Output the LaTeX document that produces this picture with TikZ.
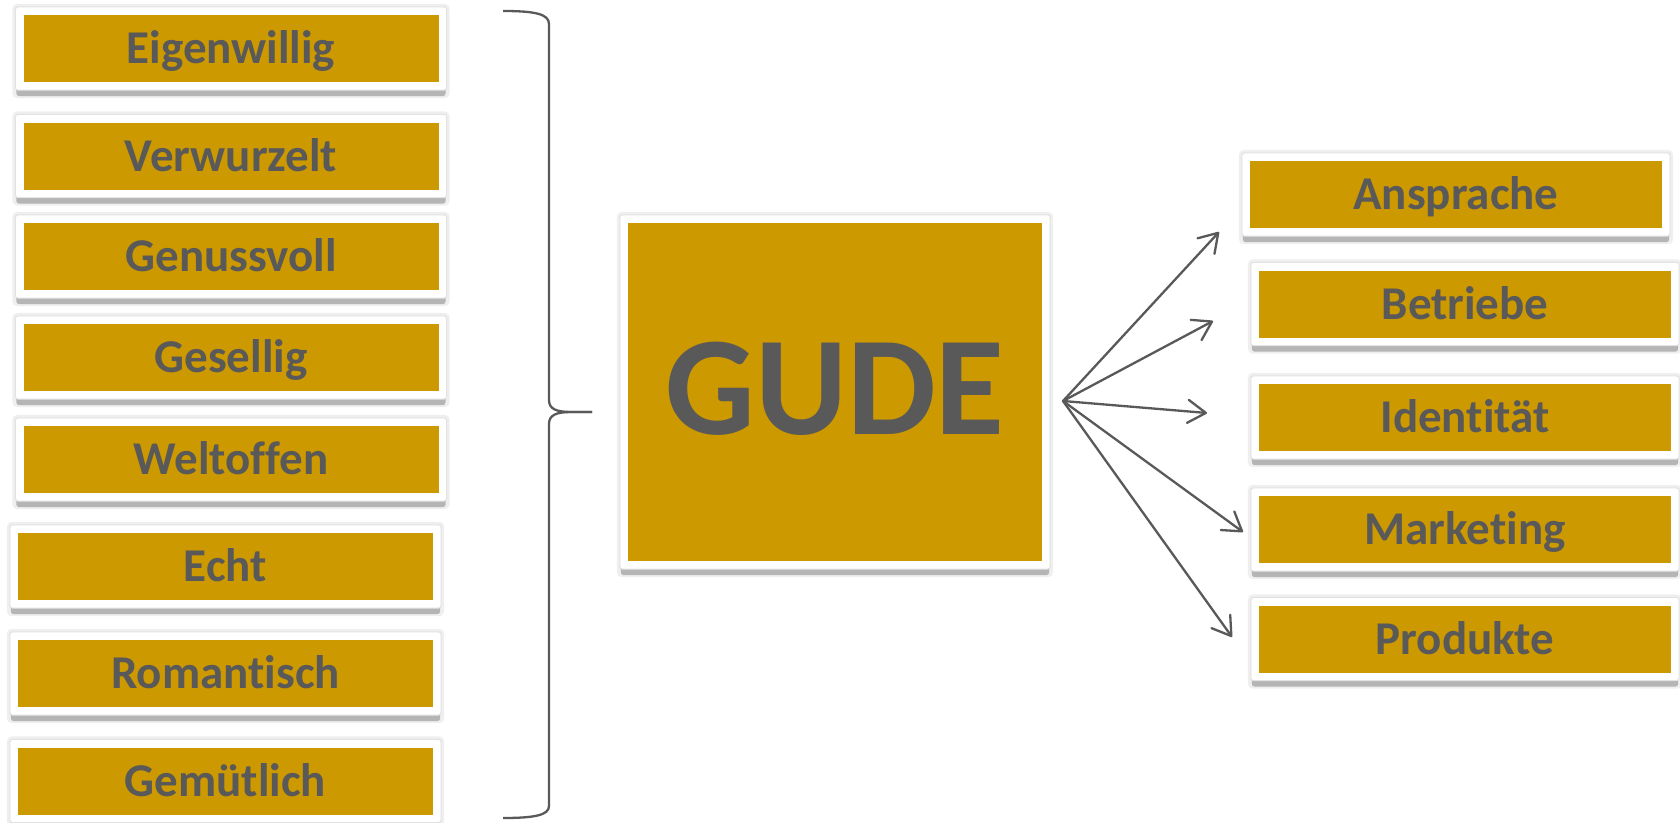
\documentclass[tikz,border=0pt]{standalone}
\usepackage{fontspec}
\setmainfont{Carlito}[RawFeature={-liga;-clig;-dlig;-calt}]
\usetikzlibrary{arrows.meta,backgrounds}
\definecolor{gold}{HTML}{CC9900}
\definecolor{txtgray}{HTML}{595959}
\definecolor{shadowgray}{HTML}{B5B5B5}
\definecolor{glowgray}{HTML}{EFEFEF}
\definecolor{edgegray}{HTML}{E2E2E2}
\begin{document}
\begin{tikzpicture}[x=1pt,y=-1pt,
  goldbox/.style={fill=gold, inner sep=0pt, minimum width=#1, minimum height=67pt,
    text=txtgray, font=\fontsize{47}{56}\selectfont\bfseries,
    text height=30pt, text depth=0pt, align=center},
  goldbox/.default=415pt,
  bigbox/.style={fill=gold, inner sep=0pt, minimum width=414pt, minimum height=338pt,
    text=txtgray, font=\fontsize{141}{160}\selectfont\bfseries,
    text height=91pt, text depth=7pt},
  glow/.style={fill=glowgray, rounded corners=5pt},
  dropshadow/.style={fill=shadowgray, rounded corners=3pt},
  frame/.style={fill=white, draw=edgegray, line width=1pt, rounded corners=3pt},
  arrowline/.style={draw=txtgray, line width=2.3pt, line cap=round,
    -{Straight Barb[length=18pt, width=23pt, line cap=round, line join=round]}},
  bracket/.style={draw=txtgray, line width=2.3pt}
]
\useasboundingbox (0,0) rectangle (1680,822);

% left column
\node[goldbox] (l1) at (231,48.5) {Eigenwillig};
\node[goldbox] (l2) at (231,156) {Verwurzelt};
\node[goldbox] (l3) at (231,256.5) {Genussvoll};
\node[goldbox] (l4) at (231,357.5) {Gesellig};
\node[goldbox] (l5) at (231,459.5) {Weltoffen};
\node[goldbox] (l6) at (225.5,566.5) {Echt};
\node[goldbox] (l7) at (225.5,673.5) {Romantisch};
\node[goldbox] (l8) at (225.5,781) {Gemütlich};

% centre
\node[bigbox] (gude) at (835,392) {GUDE};

% right column
\node[goldbox=412pt] (r1) at (1456,194.5) {Ansprache};
\node[goldbox=412pt] (r2) at (1465,304) {Betriebe};
\node[goldbox=412pt] (r3) at (1465,417.5) {Identität};
\node[goldbox=412pt] (r4) at (1465,529.5) {Marketing};
\node[goldbox=412pt] (r5) at (1465,639) {Produkte};

% frames behind the boxes
\begin{scope}[on background layer]
\foreach \n in {l1,l2,l3,l4,l5,l6,l7,l8,gude,r1,r2,r3,r4,r5}{
  \fill[glow] ([shift={(-11pt,11pt)}]\n.north west) rectangle ([shift={(11pt,-16pt)}]\n.south east);
  \fill[dropshadow] ([shift={(-7pt,2pt)}]\n.north west) rectangle ([shift={(7pt,-14pt)}]\n.south east);
  \draw[frame] ([shift={(-8pt,8pt)}]\n.north west) rectangle ([shift={(8pt,-8pt)}]\n.south east);
}
\end{scope}

% bracket
\coordinate (brtop) at (503,11);
\coordinate (brtip) at (592,412);
\coordinate (brbot) at (503,818);
\draw[bracket] (brtop) .. controls (535,11) and (549,14) .. (549,24)
  -- (549,400) .. controls (549,409) and (556,412) .. (572,412) -- (brtip);
\draw[bracket] (brtip) -- (572,412) .. controls (556,412) and (549,415) .. (549,424)
  -- (549,806) .. controls (549,815) and (535,818) .. (brbot);

% arrows
\coordinate (src) at (1063,401);
\coordinate (t1) at (1219,232);
\coordinate (t2) at (1213,321);
\coordinate (t3) at (1207,413);
\coordinate (t4) at (1243,532);
\coordinate (t5) at (1232,637);
\foreach \t in {t1,t2,t3,t4,t5}{
  \draw[arrowline] (src) -- (\t);
}
\end{tikzpicture}
\end{document}
